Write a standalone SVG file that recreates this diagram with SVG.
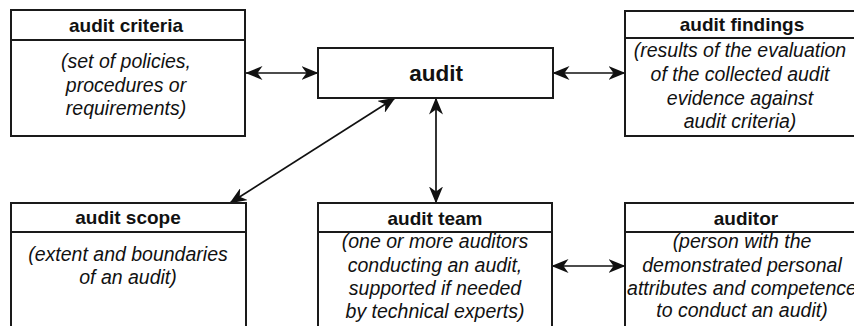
<svg xmlns="http://www.w3.org/2000/svg" width="854" height="326" viewBox="0 0 854 326">
  <style>
    .box { fill: #fff; stroke: #1a1a1a; stroke-width: 2; }
    .div { stroke: #1a1a1a; stroke-width: 2; }
    .title { font-family: "Liberation Sans", Arial, sans-serif; font-weight: bold; font-size: 19px; fill: #111; text-anchor: middle; }
    .main { font-family: "Liberation Sans", Arial, sans-serif; font-weight: bold; font-size: 22.5px; fill: #111; text-anchor: middle; }
    .body { font-family: "Liberation Sans", Arial, sans-serif; font-style: italic; font-size: 19.5px; fill: #111; text-anchor: middle; }
    .conn { stroke: #111; stroke-width: 1.7; fill: none; marker-start: url(#arr); marker-end: url(#arr); }
  </style>
  <defs>
    <marker id="arr" viewBox="0 0 17 14" refX="16.5" refY="7" markerWidth="17" markerHeight="14" markerUnits="userSpaceOnUse" orient="auto-start-reverse">
      <path d="M0,0 L17,7 L0,14 L5,7 z" fill="#111"/>
    </marker>
  </defs>
  <rect width="854" height="326" fill="#fff"/>

  <g id="connectors">
    <line class="conn" x1="318" y1="73" x2="246" y2="73"/>
    <line class="conn" x1="553" y1="73" x2="625" y2="73"/>
    <line class="conn" x1="395" y1="98" x2="230" y2="203"/>
    <line class="conn" x1="436" y1="98" x2="436" y2="203"/>
    <line class="conn" x1="552" y1="266" x2="625" y2="266"/>
  </g>

  <g id="audit-criteria">
    <rect class="box" x="11" y="10" width="234" height="126"/>
    <line class="div" x1="11" y1="40" x2="245" y2="40"/>
    <text class="title" x="126" y="32">audit criteria</text>
    <text class="body" x="126" y="68">(set of policies,</text>
    <text class="body" x="126" y="91.5">procedures or</text>
    <text class="body" x="126" y="115">requirements)</text>
  </g>

  <g id="audit">
    <rect class="box" x="318" y="48" width="235" height="50"/>
    <text class="main" x="436" y="81">audit</text>
  </g>

  <g id="audit-findings">
    <rect class="box" x="625" y="11" width="234" height="125"/>
    <line class="div" x1="625" y1="38" x2="859" y2="38"/>
    <text class="title" x="742" y="31">audit findings</text>
    <text class="body" x="740" y="57">(results of the evaluation</text>
    <text class="body" x="740" y="81">of the collected audit</text>
    <text class="body" x="740" y="104.5">evidence against</text>
    <text class="body" x="740" y="128">audit criteria)</text>
  </g>

  <g id="audit-scope">
    <rect class="box" x="11" y="203" width="235" height="140"/>
    <line class="div" x1="11" y1="232" x2="246" y2="232"/>
    <text class="title" x="128" y="224">audit scope</text>
    <text class="body" x="128" y="261">(extent and boundaries</text>
    <text class="body" x="128" y="284">of an audit)</text>
  </g>

  <g id="audit-team">
    <rect class="box" x="318" y="203" width="234" height="140"/>
    <line class="div" x1="318" y1="232" x2="552" y2="232"/>
    <text class="title" x="435" y="225">audit team</text>
    <text class="body" x="435" y="248">(one or more auditors</text>
    <text class="body" x="435" y="272">conducting an audit,</text>
    <text class="body" x="435" y="295">supported if needed</text>
    <text class="body" x="435" y="318">by technical experts)</text>
  </g>

  <g id="auditor">
    <rect class="box" x="625" y="203" width="234" height="140"/>
    <line class="div" x1="625" y1="232" x2="859" y2="232"/>
    <text class="title" x="746" y="225">auditor</text>
    <text class="body" x="742" y="248">(person with the</text>
    <text class="body" x="742" y="272">demonstrated personal</text>
    <text class="body" x="742" y="295">attributes and competence</text>
    <text class="body" x="742" y="317">to conduct an audit)</text>
  </g>
</svg>
